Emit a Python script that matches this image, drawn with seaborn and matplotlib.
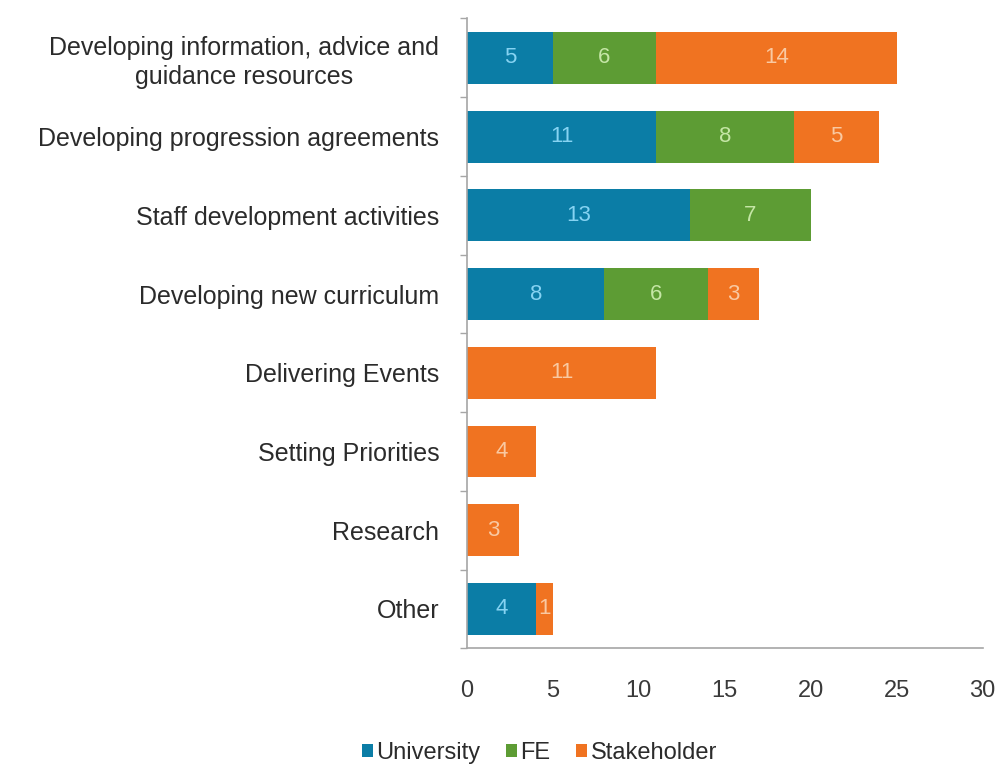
import numpy as np
import pandas as pd
import matplotlib
matplotlib.use("Agg")
import matplotlib.pyplot as plt
import seaborn as sns
from matplotlib.ticker import FixedLocator
from matplotlib.patches import Patch

categories = [
    "Developing information, advice and\nguidance resources",
    "Developing progression agreements",
    "Staff development activities",
    "Developing new curriculum",
    "Delivering Events",
    "Setting Priorities",
    "Research",
    "Other",
]
university = [5, 11, 13, 8, 0, 0, 0, 4]
fe = [6, 8, 7, 6, 0, 0, 0, 0]
stakeholder = [14, 5, 0, 3, 11, 4, 3, 1]

series_names = ["University", "FE", "Stakeholder"]
colors = {"University": "#0B7DA6", "FE": "#5D9C34", "Stakeholder": "#F07321"}
label_colors = {"University": "#86D3F2", "FE": "#C5E6A6", "Stakeholder": "#F9C9A2"}

sns.set_theme(style="white")
plt.rcParams["font.family"] = ["Liberation Sans", "DejaVu Sans"]

df = pd.DataFrame({"category": categories, "University": university,
                   "FE": fe, "Stakeholder": stakeholder})
df["c_univ"] = df["University"]
df["c_fe"] = df["University"] + df["FE"]
df["c_all"] = df["c_fe"] + df["Stakeholder"]

fig = plt.figure(figsize=(9.99, 7.70), dpi=100)
ax = fig.add_axes([0.4675, 0.158, 0.516, 0.818])

# stacked bars drawn as cumulative totals, largest first
for col, name in [("c_all", "Stakeholder"), ("c_fe", "FE"), ("c_univ", "University")]:
    sns.barplot(data=df, y="category", x=col, orient="h", color=colors[name],
                width=0.66, ax=ax, saturation=1, linewidth=0)

# value labels centred in each segment
for i in range(len(categories)):
    left = 0
    for name in series_names:
        v = df[name].iloc[i]
        if v > 0:
            ax.text(left + v / 2, i, str(v), ha="center", va="center",
                    fontsize=16, color=label_colors[name])
        left += v

ax.set_xlim(0, 30)
ax.set_ylim(len(categories) - 0.5, -0.5)
ax.set_xticks(np.arange(0, 31, 5))
ax.set_xlabel("")
ax.set_ylabel("")
ax.tick_params(axis="x", labelsize=17, colors="#3a3a3a", length=5, width=1,
               color="#A6A6A6", direction="out", pad=18)
ax.tick_params(axis="y", labelsize=18, labelcolor="#2b2b2b", length=0, pad=20)
ax.yaxis.set_minor_locator(FixedLocator(np.arange(-0.5, len(categories), 1)))
ax.tick_params(axis="y", which="minor", length=5, width=1, color="#A6A6A6",
               direction="out", left=True)
for lab in ax.get_yticklabels():
    lab.set_horizontalalignment("right")
    lab.set_multialignment("center")
    lab.set_linespacing(1.25)

for s in ["top", "right"]:
    ax.spines[s].set_visible(False)
for s in ["left", "bottom"]:
    ax.spines[s].set_color("#A6A6A6")
    ax.spines[s].set_linewidth(1.2)

leg_handles = [Patch(facecolor=colors[n], edgecolor="none") for n in series_names]
fig.legend(leg_handles, series_names, loc="center", bbox_to_anchor=(0.54, 0.022),
           ncol=3, frameon=False, fontsize=17, handlelength=0.45, handleheight=0.45,
           handletextpad=0.15, columnspacing=1.1, labelcolor="#2b2b2b")

fig.savefig("out.png", dpi=100)
